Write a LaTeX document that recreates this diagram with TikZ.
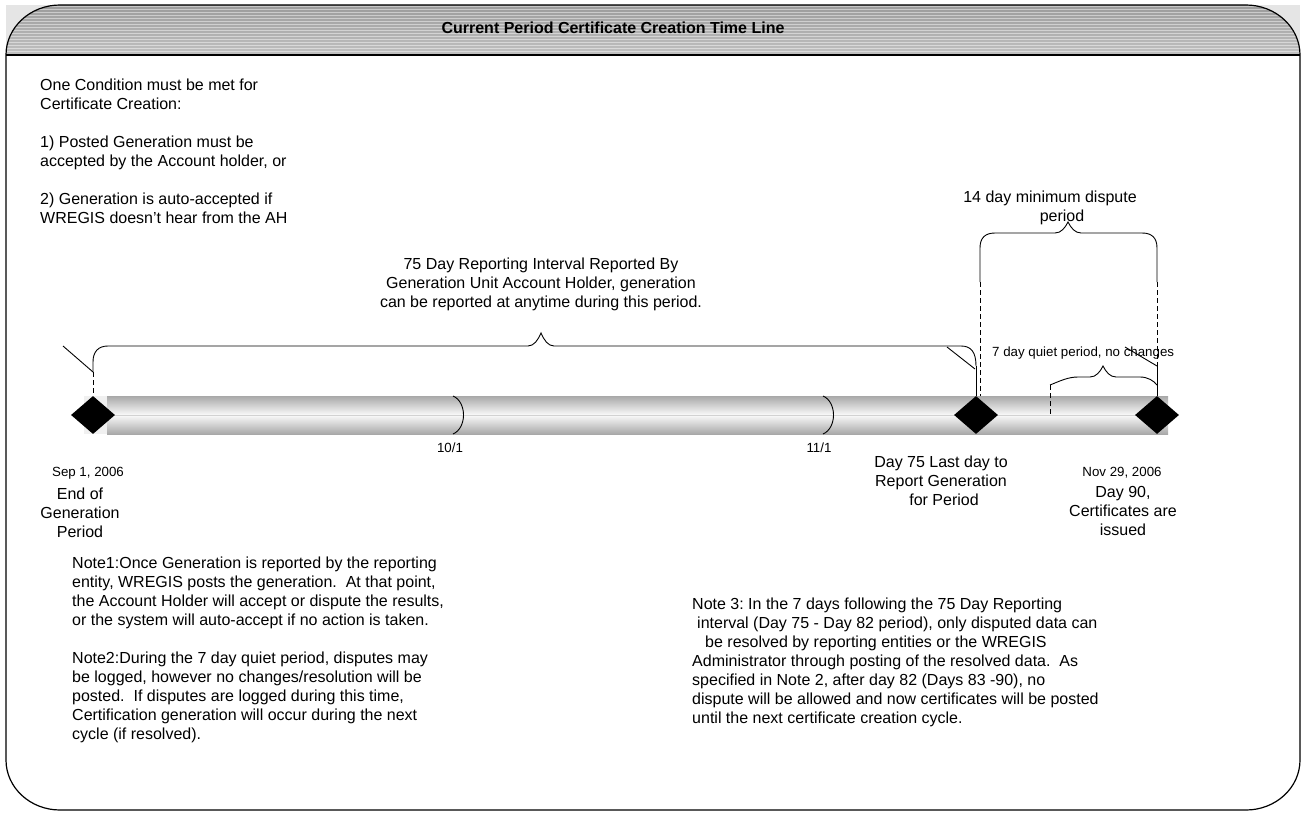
\documentclass[tikz,border=0pt]{standalone}
\usepackage{fontspec}
\setmainfont{Liberation Sans}
\usetikzlibrary{shapes.geometric}
\begin{document}
\frenchspacing
\begin{tikzpicture}[x=1pt,y=-1pt,
  txt/.style={inner sep=0pt, font=\fontsize{16}{19}\selectfont},
  small/.style={inner sep=0pt, font=\fontsize{13.3}{16}\selectfont},
  marker/.style={diamond, fill=black, draw=none, minimum width=44pt, minimum height=38pt, inner sep=0pt},
  ln/.style={black, line width=0.9pt},
  dsh/.style={black, line width=0.9pt, dash pattern=on 5pt off 3pt},
  framed/.style={black, line width=1.2pt},
]
\useasboundingbox (0,0) rectangle (1306,813);
% header background
\fill[gray!20] (6,5) rectangle (1300,55);
\begin{scope}
\clip (6,56) -- (6,55) .. controls (6,27.4) and (30.2,5) .. (60,5) -- (1246,5) .. controls (1275.8,5) and (1300,27.4) .. (1300,55) -- (1300,56) -- cycle;
\shade[top color=gray!78, bottom color=gray!48] (6,5) rectangle (1300,56);
\foreach \yy in {6.5,9.5,...,54} \draw[white, opacity=0.45, line width=1.1pt] (6,\yy) -- (1300,\yy);
\end{scope}
% frame
\draw[framed] (6,760) -- (6,55) .. controls (6,27.4) and (30.2,5) .. (60,5) -- (1246,5) .. controls (1275.8,5) and (1300,27.4) .. (1300,55) -- (1300,760) .. controls (1300,787.6) and (1275.8,810) .. (1246,810) -- (60,810) .. controls (30.2,810) and (6,787.6) .. (6,760) -- cycle;
\draw[framed] (6,55) -- (1300,55);
\node[inner sep=0pt, font=\fontsize{16}{19}\selectfont\bfseries] (title) at (613,28) {Current Period Certificate Creation Time Line};

% timeline bar
\fill[gray!12] (84,396) rectangle (107,434);
\shade[top color=gray!68, bottom color=gray!68, middle color=gray!4] (107,396) rectangle (1168,434);
\draw[gray!35, line width=0.8pt] (107,415) -- (1168,415);

% month arcs
\draw[ln] (453,396) .. controls (467,402) and (467,428) .. (453,434);
\draw[ln] (823,396) .. controls (837,402) and (837,428) .. (823,434);
\node[small, anchor=base] (oct) at (450,452.5) {10/1};
\node[small, anchor=base] (nov) at (819,452.5) {11/1};

% diamonds
\node[marker] (d1) at (93,415) {};
\node[marker] (d2) at (976,415) {};
\node[marker] (d3) at (1157,415) {};

% 75-day brace
\coordinate (bL) at (93,372);
\coordinate (bR) at (976,366);
\draw[ln] (bL) -- (93,362) .. controls (93,352) and (98,346) .. (108,346) -- (528,346) .. controls (534,346) and (538,340) .. (541,333) .. controls (544,340) and (548,346) .. (554,346) -- (961,346) .. controls (971,346) and (976,352) .. (bR);
\draw[dsh] (bL) -- (d1.north);
\draw[ln] (bR) -- (d2.north);
\draw[ln] (63,346) -- (bL);
\draw[ln] (947,347) -- (975,369);
\node[txt, align=center, anchor=north] (int75) at (541,258) {75 Day Reporting Interval Reported By\\Generation Unit Account Holder, generation\\can be reported at anytime during this period.};

% 14-day brace
\coordinate (cL) at (980,282);
\coordinate (cR) at (1157,282);
\draw[ln] (cL) -- (980,248) .. controls (980,238) and (985,233) .. (995,233) -- (1055,233) .. controls (1061,233) and (1065,228) .. (1068,222) .. controls (1071,228) and (1075,233) .. (1081,233) -- (1142,233) .. controls (1152,233) and (1157,238) .. (1157,248) -- (cR);
\draw[dsh] (cL) -- (980,396);
\coordinate (qR) at (1157,366);
\draw[dsh] (cR) -- (qR);
\node[txt, align=center, anchor=north] (min14) at (1050,191) {14 day minimum dispute\\\hspace*{24pt}period};

% 7-day brace
\coordinate (qL) at (1050,385);
\coordinate (qE) at (1157,385);
\draw[ln] (qL) .. controls (1060,381) and (1068,377) .. (1078,377) -- (1090,377) .. controls (1096,377) and (1100,372) .. (1103,366) .. controls (1106,372) and (1110,377) .. (1116,377) -- (1140,377) .. controls (1148,377) and (1154,381) .. (qE);
\draw[dsh] (qL) -- (1050,415);
\draw[ln] (qR) -- (d3.north);
\draw[ln] (1125,347) -- (qR);
\node[small, anchor=base west] (quiet) at (992,356.5) {7 day quiet period, no changes};

% labels under timeline
\node[small, anchor=base] (sep) at (88,476) {Sep 1, 2006};
\node[txt, align=center, anchor=north] (endgen) at (80,488) {End of\\Generation\\Period};
\node[txt, align=center, anchor=north] (day75) at (941,456) {Day 75 Last day to\\Report Generation\\\hspace*{6pt}for Period};
\node[small, anchor=base] (nov29) at (1122,476) {Nov 29, 2006};
\node[txt, align=center, anchor=north] (day90) at (1123,486) {Day 90,\\Certificates are\\issued};

% left conditions
\node[txt, align=left, anchor=north west] (cond) at (40,79) {One Condition must be met for\\Certificate Creation:\\[19pt]1) Posted Generation must be\\accepted by the Account holder, or\\[19pt]2) Generation is auto-accepted if\\WREGIS doesn't hear from the AH};

% notes
\node[txt, align=left, anchor=north west] (note12) at (72,557) {Note1:Once Generation is reported by the reporting\\entity, WREGIS posts the generation.\ \ At that point,\\the Account Holder will accept or dispute the results,\\or the system will auto-accept if no action is taken.\\[19pt]Note2:During the 7 day quiet period, disputes may\\be logged, however no changes/resolution will be\\posted.\ \ If disputes are logged during this time,\\Certification generation will occur during the next\\cycle (if resolved).};
\node[txt, align=left, anchor=north west] (note3) at (692,598) {Note 3: In the 7 days following the 75 Day Reporting\\\hspace*{5pt}interval (Day 75 - Day 82 period), only disputed data can\\\hspace*{13pt}be resolved by reporting entities or the WREGIS\\Administrator through posting of the resolved data.\ \ As\\specified in Note 2, after day 82 (Days 83 -90), no\\dispute will be allowed and now certificates will be posted\\until the next certificate creation cycle.};
\end{tikzpicture}
\end{document}
